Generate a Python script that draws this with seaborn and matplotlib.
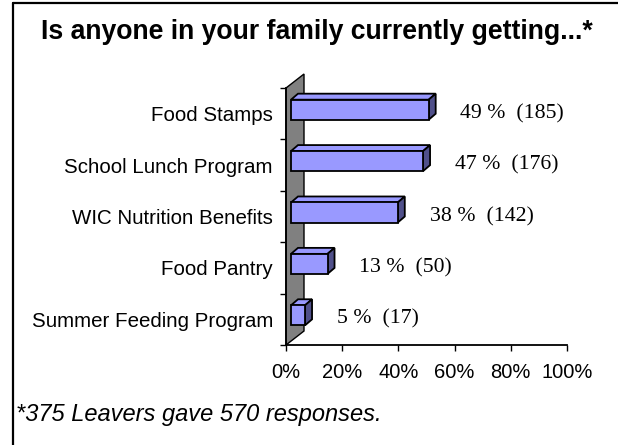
import numpy as np
import pandas as pd
import seaborn as sns
import matplotlib.pyplot as plt
from matplotlib.patches import Polygon
from matplotlib.lines import Line2D
from matplotlib.transforms import IdentityTransform
from matplotlib.ticker import FixedLocator

# ---- data -------------------------------------------------------------
programs = ["Food Stamps", "School Lunch Program", "WIC Nutrition Benefits",
            "Food Pantry", "Summer Feeding Program"]
percent = [49, 47, 38, 13, 5]
counts = [185, 176, 142, 50, 17]
x_ticks = [0, 20, 40, 60, 80, 100]
title = "Is anyone in your family currently getting...*"
footnote = "*375 Leavers gave 570 responses."

# ---- style ------------------------------------------------------------
sns.set_theme(style="white")
plt.rcParams["font.family"] = ["Liberation Sans", "DejaVu Sans"]

DPI = 100
W, H = 618, 445
fig = plt.figure(figsize=(W / DPI, H / DPI), dpi=DPI)
fig.patch.set_facecolor("white")

ax = fig.add_axes([286 / W, 100 / H, 281 / W, 257 / H])
ax.set_facecolor("none")

df = pd.DataFrame({"program": programs, "percent": percent})
sns.barplot(data=df, x="percent", y="program", orient="h", color="#9999FF",
            saturation=1, width=0.39, edgecolor="black", linewidth=1.3,
            ax=ax, zorder=4)

ax.set_xlim(0, 100)
ax.set_ylim(len(programs) - 0.5, -0.5)
ax.set_xlabel("")
ax.set_ylabel("")

# axes lines
for side in ["top", "right"]:
    ax.spines[side].set_visible(False)
for side in ["left", "bottom"]:
    ax.spines[side].set_color("black")
    ax.spines[side].set_linewidth(1.3)
    ax.spines[side].set_zorder(6)

# ticks
ax.set_xticks(x_ticks)
ax.set_xticklabels([f"{t}%" for t in x_ticks])
ax.tick_params(axis="x", which="major", length=4.3, width=1, color="black",
               direction="out", bottom=True, pad=9, labelsize=14.5,
               labelcolor="black")
ax.yaxis.set_minor_locator(FixedLocator(np.arange(-0.5, len(programs), 1.0)))
ax.tick_params(axis="y", which="major", length=0, pad=9.4, labelsize=14.8,
               labelcolor="black")
ax.tick_params(axis="y", which="minor", length=4.3, width=1, color="black",
               direction="out", left=True)

# ---- 3D look: side wall and extruded bars ------------------------------
FRONT = np.array([5.0, 4.0])   # pixel shift of the bar front faces
DEPTH = np.array([7.0, 6.0])   # pixel depth of each bar
WALL = np.array([18.0, 14.0])  # pixel depth of the wall

to_px = ax.transData.transform
n = len(programs)
w0 = to_px((0, n - 0.5))
w1 = to_px((0, -0.5))
wall = Polygon([w0, w1, w1 + WALL, w0 + WALL], closed=True,
               facecolor="#808080", edgecolor="black", linewidth=1.0,
               transform=IdentityTransform(), clip_on=False, zorder=2)
ax.add_patch(wall)

bar_patches = [p for p in ax.patches if p is not wall]
for p in bar_patches:
    x, y = p.get_x(), p.get_y()
    w, h = p.get_width(), p.get_height()
    a = to_px((x, y))
    b = to_px((x + w, y + h))
    X0, X1 = min(a[0], b[0]) + FRONT[0], max(a[0], b[0]) + FRONT[0]
    Y0, Y1 = min(a[1], b[1]) + FRONT[1], max(a[1], b[1]) + FRONT[1]
    # front face
    front = Polygon([(X0, Y0), (X1, Y0), (X1, Y1), (X0, Y1)], closed=True,
                    facecolor="#9999FF", edgecolor="black", linewidth=1.3,
                    transform=IdentityTransform(), clip_on=False, zorder=5)
    top = Polygon([(X0, Y1), (X1, Y1), (X1 + DEPTH[0], Y1 + DEPTH[1]),
                   (X0 + DEPTH[0], Y1 + DEPTH[1])], closed=True,
                  facecolor="#9999FF", edgecolor="black", linewidth=1.3,
                  transform=IdentityTransform(), clip_on=False, zorder=5)
    side = Polygon([(X1, Y0), (X1, Y1), (X1 + DEPTH[0], Y1 + DEPTH[1]),
                    (X1 + DEPTH[0], Y0 + DEPTH[1])], closed=True,
                   facecolor="#50508A", edgecolor="black", linewidth=1.3,
                   transform=IdentityTransform(), clip_on=False, zorder=5)
    for poly in (top, side, front):
        ax.add_patch(poly)
    p.set_visible(False)

# ---- value labels -----------------------------------------------------
for i, (pct, cnt) in enumerate(zip(percent, counts)):
    ax.annotate(f"{pct} %  ({cnt})", xy=(pct, i), xytext=(26.5, 0),
                textcoords="offset points", ha="left", va="center",
                family=["Liberation Serif", "DejaVu Serif"], fontsize=15.7,
                color="black", zorder=7, annotation_clip=False)

# ---- title, footnote, frame -------------------------------------------
fig.text(317 / W, 1 - 32 / H, title, ha="center", va="center",
         fontsize=19.2, fontweight="bold", color="black")
fig.text(16 / W, 1 - 415 / H, footnote, ha="left", va="center",
         fontsize=17, style="italic", color="black")

fig.add_artist(Line2D([13 / W, 13 / W], [0, 1 - 3 / H], color="black",
                      linewidth=1.6, transform=fig.transFigure))
fig.add_artist(Line2D([13 / W, 1], [1 - 3 / H, 1 - 3 / H], color="black",
                      linewidth=1.6, transform=fig.transFigure))

fig.savefig("out.png", dpi=DPI, facecolor="white")
